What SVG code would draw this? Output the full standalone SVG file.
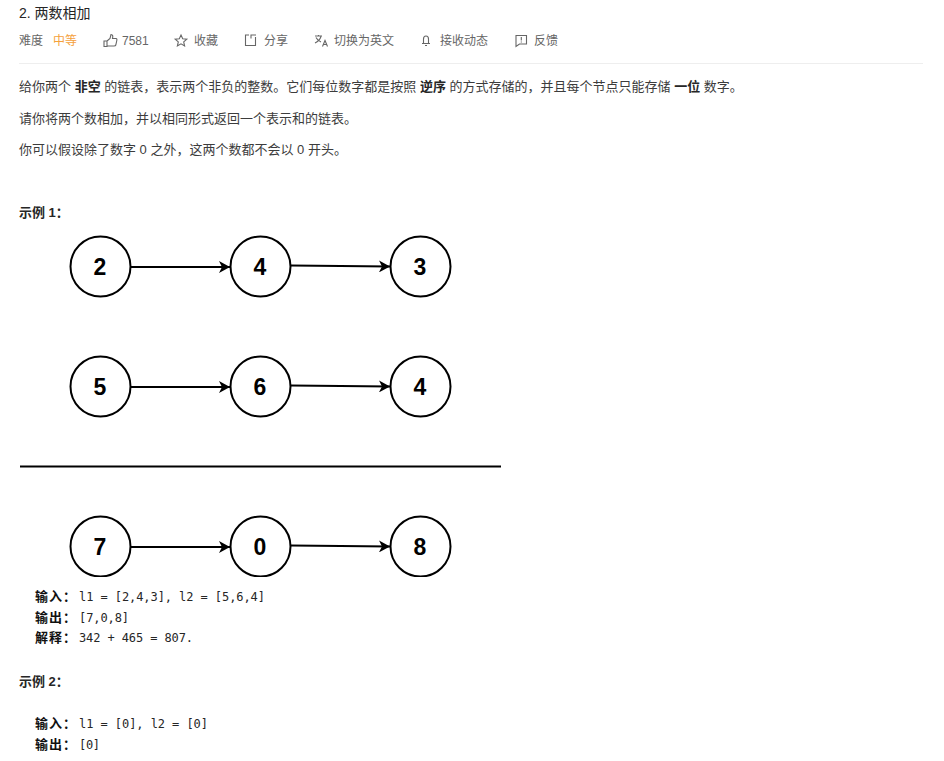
<svg xmlns="http://www.w3.org/2000/svg" width="944" height="761" viewBox="0 0 944 761">
<defs>
<style>
text{font-family:"Liberation Sans","Noto Sans CJK SC",sans-serif;font-size:13px;fill:#3c3c3c}
.t{font-size:14px;fill:#262626}
.m{font-size:12px;fill:#666}
.b{font-weight:700;fill:#262626}
.c{font-family:"DejaVu Sans Mono","Noto Sans CJK SC",monospace;font-size:12px;fill:#262626}
.k{font-family:"Noto Sans CJK SC",sans-serif;font-size:13px;font-weight:700;fill:#111;letter-spacing:1px}
.n{font-size:23px;font-weight:700;fill:#000;text-anchor:middle}
circle{fill:#fff;stroke:#000;stroke-width:2}
.l{stroke:#000;stroke-width:2;fill:none;marker-end:url(#a)}
.i{fill:none;stroke:#666;stroke-width:1.1}
</style>
<marker id="a" markerUnits="userSpaceOnUse" markerWidth="12" markerHeight="12" refX="11" refY="6" orient="auto"><path d="M0 0L11 6L0 12L3 6Z" fill="#000"/></marker>
<clipPath id="cp"><rect x="0" y="0" width="944" height="577"/></clipPath>
</defs>
<rect width="944" height="761" fill="#fff"/>
<g id="header">
<text class="t" x="19" y="18">2. 两数相加</text>
<text class="m" x="19" y="45">难度</text>
<text class="m" x="53" y="45" style="fill:#f5a13c">中等</text>
<path class="i" d="M104 41h3v5.500h-3zM107 41l3-2.500 1-4c2 0 2 2 1.500 4h3.500c1 0 1 1 .8 2l-1 4.500c-.2 .8-1 1-1.800 1h-6.500"/>
<text class="m" x="122" y="45">7581</text>
<path class="i" d="M181 35l1.700 3.800 4.100 .4-3.100 2.700 .9 4-3.600-2.100-3.600 2.100 .9-4-3.100-2.700 4.100-.4z"/>
<text class="m" x="194" y="45">收藏</text>
<path class="i" d="M249 35h-3.500v10.500h10v-8.500M251 38.500v-3.500h5"/>
<text class="m" x="264" y="45">分享</text>
<path class="i" d="M315 36h7M318.500 35v1.500M321 36.500c-1 3-3 5-6 6.500M316 37.500c1 2 3 3.500 5 4.500M322.500 46.500l2.500-6 2.500 6M323.500 44.500h3"/>
<text class="m" x="334" y="45">切换为英文</text>
<path class="i" d="M422 43.500h8M423.500 43.500v-4.500c0-1.500 1-3 2.500-3s2.500 1.500 2.500 3v4.500M425 45.500h2"/>
<text class="m" x="440" y="45">接收动态</text>
<path class="i" d="M516 35.500h10.500v8.500h-7l-3.500 2.500z"/>
<path d="M521.300 37v3.500M521.300 41.500v1" stroke="#666" stroke-width="1.100"/>
<text class="m" x="534" y="45">反馈</text>
<rect x="19" y="63" width="904" height="1" fill="#eee"/>
</g>
<g id="description">
<text x="19" y="91">给你两个 <tspan class="b">非空</tspan> 的链表，表示两个非负的整数。它们每位数字都是按照 <tspan class="b">逆序</tspan> 的方式存储的，并且每个节点只能存储 <tspan class="b">一位</tspan> 数字。</text>
<text x="19" y="123">请你将两个数相加，并以相同形式返回一个表示和的链表。</text>
<text x="19" y="154">你可以假设除了数字 0 之外，这两个数都不会以 0 开头。</text>
<text class="b" x="19" y="217">示例 1：</text>
</g>
<g id="connectors">
<line class="l" x1="131" y1="267" x2="230" y2="267"/>
<line class="l" x1="291" y1="265.500" x2="390" y2="266.500"/>
<line class="l" x1="131" y1="387" x2="230" y2="387"/>
<line class="l" x1="291" y1="385.500" x2="390" y2="386.500"/>
<line x1="20" y1="466.500" x2="501" y2="466.500" stroke="#000" stroke-width="2"/>
<line class="l" x1="131" y1="547" x2="230" y2="547"/>
<line class="l" x1="291" y1="545.500" x2="390" y2="546.500"/>
</g>
<g id="n2"><circle cx="100.500" cy="266.500" r="30"/><text class="n" x="100" y="275">2</text></g>
<g id="n4"><circle cx="260.500" cy="266.500" r="30"/><text class="n" x="260" y="275">4</text></g>
<g id="n3"><circle cx="420.500" cy="266.500" r="30"/><text class="n" x="420" y="275">3</text></g>
<g id="n5"><circle cx="100.500" cy="386.500" r="30"/><text class="n" x="100" y="395">5</text></g>
<g id="n6"><circle cx="260.500" cy="386.500" r="30"/><text class="n" x="260" y="395">6</text></g>
<g id="n4b"><circle cx="420.500" cy="386.500" r="30"/><text class="n" x="420" y="395">4</text></g>
<g id="n7" clip-path="url(#cp)"><circle cx="100.500" cy="546.500" r="30"/><text class="n" x="100" y="555">7</text></g>
<g id="n0" clip-path="url(#cp)"><circle cx="260.500" cy="546.500" r="30"/><text class="n" x="260" y="555">0</text></g>
<g id="n8" clip-path="url(#cp)"><circle cx="420.500" cy="546.500" r="30"/><text class="n" x="420" y="555">8</text></g>
<g id="examples">
<text class="k" x="35" y="601">输入：</text><text class="c" x="79" y="601" textLength="186">l1 = [2,4,3], l2 = [5,6,4]</text>
<text class="k" x="35" y="622">输出：</text><text class="c" x="79" y="622" textLength="50">[7,0,8]</text>
<text class="k" x="35" y="642">解释：</text><text class="c" x="79" y="642" textLength="114">342 + 465 = 807.</text>
<text class="b" x="19" y="686">示例 2：</text>
<text class="k" x="35" y="728">输入：</text><text class="c" x="79" y="728" textLength="129">l1 = [0], l2 = [0]</text>
<text class="k" x="35" y="749">输出：</text><text class="c" x="79" y="749" textLength="21">[0]</text>
</g>
</svg>
